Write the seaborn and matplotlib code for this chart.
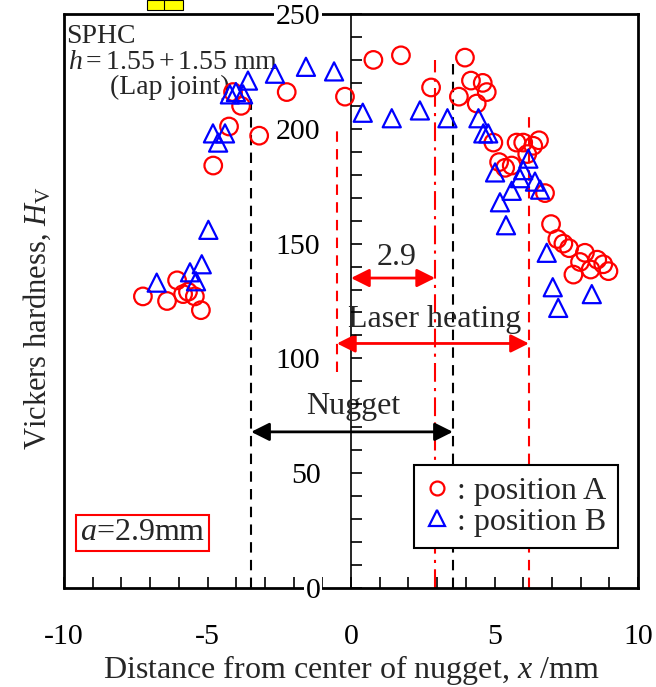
import numpy as np
import pandas as pd
import matplotlib
matplotlib.use("Agg")
import matplotlib.pyplot as plt
import seaborn as sns
from matplotlib.ticker import MultipleLocator
from matplotlib.patches import Rectangle
from matplotlib.lines import Line2D

# Hardness data
x_a = [-7.25, -6.41, -6.06, -5.85, -5.68, -5.44, -5.23, -4.80, -4.25, -4.11, -3.83, -3.20,
       -2.24, -0.21, 0.78, 1.74, 2.79, 3.76, 3.97, 4.18, 4.38, 4.59, 4.73, 4.96, 5.16,
       5.37, 5.60, 5.77, 6.00, 6.14, 6.35, 6.55, 6.76, 6.97, 7.19, 7.40, 7.60, 7.75,
       7.98, 8.15, 8.35, 8.58, 8.79, 8.97]
hv_a = [127, 125, 134, 128, 129, 127, 121, 184, 201, 216, 210, 197,
        216, 214, 230, 232, 218, 214, 231, 221, 211, 220, 216, 194, 185.5,
        183, 184, 194, 194, 189, 192.6, 195, 172, 158.5, 152, 150, 148, 136.5,
        142, 146, 138.7, 143, 141, 138]

x_b = [-6.77, -5.61, -5.40, -5.20, -4.97, -4.81, -4.63, -4.39, -4.22, -4.01, -3.76, -3.59,
       -2.65, -1.57, -0.59, 0.41, 1.42, 2.40, 3.36, 4.44, 4.61, 4.78, 5.02, 5.19,
       5.40, 5.60, 5.89, 6.00, 6.18, 6.41, 6.59, 6.82, 7.03, 7.22, 8.39]
hv_b = [133, 137.5, 133.6, 141, 156, 198, 194, 198, 215, 216, 215, 221,
        224, 227, 225, 207, 204.6, 208, 204.6, 204.6, 198, 198, 181, 168,
        158, 173, 178.5, 182, 187, 177, 173.5, 146, 131, 122, 128]

# reference lines: (x, ymin, ymax)
nugget_left = (-3.48, 0, 215)
nugget_right = (3.55, 0, 231)
offset_line = (2.93, 0, 230)
laser_left = (-0.49, 94, 200)
laser_right = (6.2, 0, 207)

df_a = pd.DataFrame({"x": x_a, "hv": hv_a})
df_b = pd.DataFrame({"x": x_b, "hv": hv_b})

sns.set_theme(style="white")
plt.rcParams["font.family"] = ["Liberation Serif", "DejaVu Serif"]
plt.rcParams["mathtext.fontset"] = "custom"
plt.rcParams["mathtext.rm"] = "Liberation Serif"
plt.rcParams["mathtext.it"] = "Liberation Serif:italic"
fs = 23      # labels and annotations
fs_s = 20    # corner texts
fs_t = 21.5  # tick labels

fig = plt.figure(figsize=(6.56, 6.87), dpi=100)
ax = fig.add_axes([64/656, 1-588/687, 574/656, 574/687])

sns.scatterplot(data=df_a, x="x", y="hv", ax=ax, marker="o", s=160,
                facecolor="none", edgecolor="red", linewidth=1.6, zorder=4)
sns.scatterplot(data=df_b, x="x", y="hv", ax=ax, marker="^", s=170,
                facecolor="none", edgecolor="blue", linewidth=1.6, zorder=4)

ax.set_xlim(-10, 10)
ax.set_ylim(0, 250)

# vertical guide lines
for xv, y0, y1 in [nugget_left, nugget_right]:
    ax.plot([xv, xv], [y0, y1], color="black", lw=1.5, ls=(0, (5, 3.5)), zorder=2)
ax.plot([offset_line[0]] * 2, offset_line[1:], color="red", lw=1.5,
        ls=(0, (9, 3, 1.5, 3)), zorder=2)
for xv, y0, y1 in [laser_left, laser_right]:
    ax.plot([xv, xv], [y0, y1], color="red", lw=1.5, ls=(0, (5, 3.5)), zorder=2)

# dimension arrows
astyle = "<|-|>,head_length=0.5,head_width=0.25"
ax.annotate("", xy=(offset_line[0], 135), xytext=(0, 135),
            arrowprops=dict(arrowstyle=astyle, color="red", lw=2, mutation_scale=22,
                            shrinkA=0, shrinkB=0))
ax.text(1.6, 144, "2.9", ha="center", va="center", fontsize=fs)
ax.annotate("", xy=(laser_right[0], 106.5), xytext=(laser_left[0], 106.5),
            arrowprops=dict(arrowstyle=astyle, color="red", lw=2, mutation_scale=22,
                            shrinkA=0, shrinkB=0))
ax.text(2.93, 117, "Laser heating", ha="center", va="center", fontsize=fs)
ax.annotate("", xy=(nugget_right[0], 68), xytext=(nugget_left[0], 68),
            arrowprops=dict(arrowstyle=astyle, color="black", lw=2, mutation_scale=22,
                            shrinkA=0, shrinkB=0))
ax.text(0.07, 79, "Nugget", ha="center", va="center", fontsize=fs)

# annotations in the corner
ax.text(-9.93, 240, "SPHC", ha="left", va="center", fontsize=fs_s)
ax.text(-9.85, 229, r"$h = 1.55 + 1.55$ mm", ha="left", va="center", fontsize=fs_s)
ax.text(-6.3, 218, "(Lap joint)", ha="center", va="center", fontsize=fs_s)
ax.text(-7.25, 24, r"$a$=2.9mm", ha="center", va="center", fontsize=fs,
        bbox=dict(boxstyle="square,pad=0.12", fc="white", ec="red", lw=1.5))

# frame: left spine becomes the hardness axis through x = 0
for sp in ax.spines.values():
    sp.set_visible(True)
    sp.set_color("black")
    sp.set_linewidth(2)
ax.spines["left"].set_position(("data", 0))
ax.spines["left"].set_linewidth(1.2)
ax.plot([0, 0], [0, 1], transform=ax.transAxes, color="black", lw=2,
        clip_on=False, zorder=2.5)

ax.set_xticks([-10, -5, 0, 5, 10])
ax.set_xticklabels(["-10", "-5", "0", "5", "10"])
ax.xaxis.set_minor_locator(MultipleLocator(1))
ax.tick_params(axis="x", which="both", direction="in", length=8, width=1.2,
               bottom=True, top=False, pad=26, labelsize=fs_t, colors="black")

ax.set_yticks([0, 50, 100, 150, 200, 250])
ax.yaxis.set_minor_locator(MultipleLocator(10))
ax.tick_params(axis="y", which="both", direction="in", length=8, width=1.2,
               left=True, right=False, pad=22, labelsize=fs_t, colors="black")
ax.yaxis.set_zorder(3)
for lbl in ax.get_yticklabels():
    lbl.set_bbox(dict(boxstyle="square,pad=0.05", fc="white", ec="none"))

ax.set_xlabel(r"Distance from center of nugget, $x$ /mm", fontsize=fs, labelpad=2)
ax.set_ylabel(r"Vickers hardness, $H_\mathrm{V}$", fontsize=22)
ax.yaxis.set_label_coords(-0.019, 0.47)

# legend
handles = [Line2D([], [], ls="none", marker="o", mfc="none", mec="red", mew=1.6, ms=10),
           Line2D([], [], ls="none", marker="^", mfc="none", mec="blue", mew=1.6, ms=11)]
leg = ax.legend(handles, [": position A", ": position B"], loc="upper right",
                bbox_to_anchor=(0.965, 0.214), borderaxespad=0, fontsize=fs,
                frameon=True, fancybox=False, framealpha=1, handlelength=0.7,
                handletextpad=0.3, borderpad=0.35, labelspacing=0.05)
leg.get_frame().set_edgecolor("black")
leg.get_frame().set_linewidth(1.5)
leg.set_zorder(6)

# small yellow tab at the top edge of the scan
fig.add_artist(Rectangle((147/656, 1-10/687), 36/656, 10/687, transform=fig.transFigure,
                         fc="#ffff00", ec="black", lw=0.8))
fig.add_artist(Line2D([164/656, 164/656], [1-10/687, 1], transform=fig.transFigure,
                      color="black", lw=0.8))

fig.savefig("out.png", dpi=100, facecolor="white")
